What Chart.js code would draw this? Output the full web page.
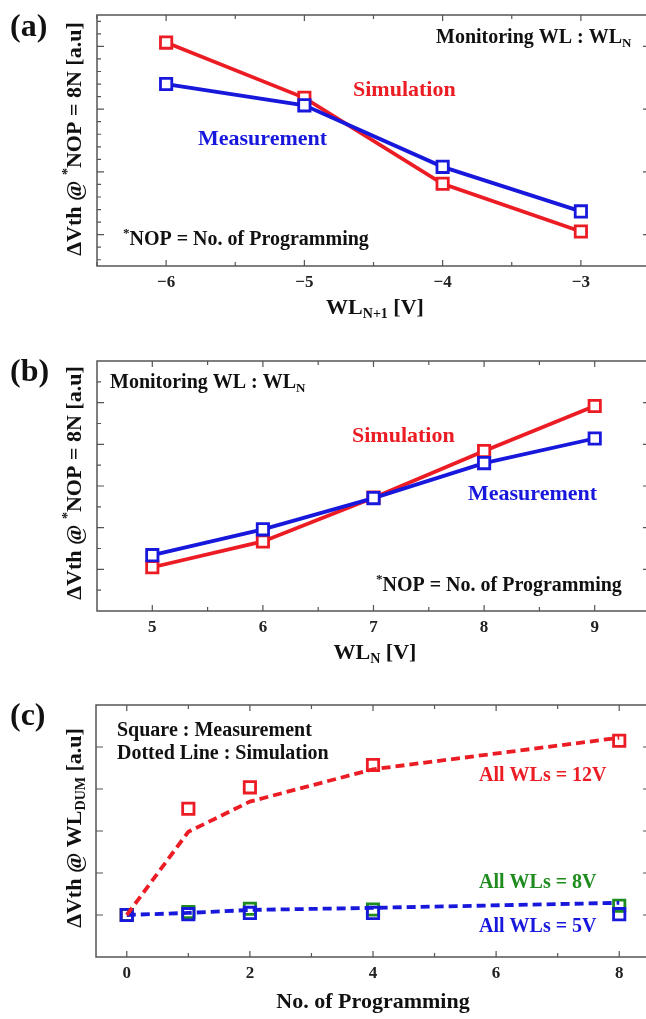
<!DOCTYPE html>
<html>
<head>
<meta charset="utf-8">
<script src="https://cdn.jsdelivr.net/npm/chart.js@4.4.1/dist/chart.umd.min.js"></script>
<style>
  html, body { margin: 0; padding: 0; background: #fff; overflow: hidden; }
  body { width: 646px; height: 1019px; position: relative; overflow: hidden; }
  .panel { position: absolute; left: 0; width: 652px; }
</style>
</head>
<body>
<!-- canvases are a little wider than the page: the right frame sits just past the edge -->
<div class="panel" style="top:0px"><canvas id="chartA" width="652" height="325"></canvas></div>
<div class="panel" style="top:325px"><canvas id="chartB" width="652" height="345"></canvas></div>
<div class="panel" style="top:670px"><canvas id="chartC" width="652" height="349"></canvas></div>
<script>
// (a) dVth vs WL(N+1) voltage
const wlNext = [-6, -5, -4, -3];
const simA = [4.06, 3.18, 1.81, 1.05];
const measA = [3.40, 3.06, 2.08, 1.37];

// (b) dVth vs WL(N) voltage
const wlN = [5, 6, 7, 8, 9];
const simB = [1.05, 1.67, 2.72, 3.84, 4.92];
const measB = [1.34, 1.96, 2.71, 3.55, 4.14];

// (c) dVth of dummy WL vs number of programming
const nop = [0, 1, 2, 4, 8];
const meas12 = [1.0, 3.53, 4.04, 4.57, 5.15];
const sim12 = [1.0, 2.98, 3.70, 4.47, 5.22];
const meas8 = [1.0, 1.07, 1.15, 1.13, 1.22];
const meas5 = [1.0, 1.02, 1.05, 1.05, 1.02];
const sim5 = [1.0, 1.05, 1.12, 1.17, 1.29];

// tick labels
const xTicksA = [-6, -5, -4, -3];
const xTicksB = [5, 6, 7, 8, 9];
const xTicksC = [0, 2, 4, 6, 8];

const RED = "#ec1c24";
const BLUE = "#1818dc";
const GREEN = "#1e8c1e";
const SERIF = "'Liberation Serif', 'Times New Roman', serif";

const pts = (xs, ys) => xs.map((x, i) => ({ x: x, y: ys[i] }));
const range = (a, b, s) => { const r = []; for (let v = a; v <= b + 1e-9; v += s) r.push(+v.toFixed(3)); return r; };

// text with sub/superscript parts: [["WL", ""], ["N", "sub"]]
function drawRich(ctx, parts, x, y, size, color, align, rotate) {
  ctx.save();
  ctx.fillStyle = color;
  ctx.textBaseline = "middle";
  ctx.textAlign = "left";
  const fontFor = (k) => "bold " + (k ? Math.round(size * 0.65) : size) + "px " + SERIF;
  let w = 0;
  parts.forEach(([t, k]) => { ctx.font = fontFor(k); w += ctx.measureText(t).width; });
  ctx.translate(x, y);
  if (rotate) ctx.rotate(-Math.PI / 2);
  let cx = align === "center" ? -w / 2 : 0;
  parts.forEach(([t, k]) => {
    ctx.font = fontFor(k);
    const dy = k === "sub" ? size * 0.3 : k === "sup" ? -size * 0.3 : 0;
    ctx.fillText(t, cx, dy);
    cx += ctx.measureText(t).width;
  });
  ctx.restore();
}

// frame with inward ticks on all four sides, plus the annotation texts
function decor(cfg) {
  return {
    id: "decor",
    beforeDatasetsDraw(chart) {
      const { ctx, chartArea: a, scales } = chart;
      ctx.save();
      ctx.strokeStyle = "#555";
      ctx.lineWidth = 1.5;
      ctx.strokeRect(a.left, a.top, a.right - a.left, a.bottom - a.top);
      ctx.lineWidth = 1.2;
      ctx.beginPath();
      const xt = (vals, len) => vals.forEach(v => {
        const px = scales.x.getPixelForValue(v);
        ctx.moveTo(px, a.bottom); ctx.lineTo(px, a.bottom - len);
        ctx.moveTo(px, a.top); ctx.lineTo(px, a.top + len);
      });
      const yt = (vals, len) => vals.forEach(v => {
        const py = scales.y.getPixelForValue(v);
        ctx.moveTo(a.left, py); ctx.lineTo(a.left + len, py);
        ctx.moveTo(a.right, py); ctx.lineTo(a.right - len, py);
      });
      xt(cfg.xMajor, 6); xt(cfg.xMinor, 4);
      yt(cfg.yMajor, 7); yt(cfg.yMinor, 4);
      ctx.stroke();
      ctx.restore();
    },
    afterDraw(chart) {
      const ctx = chart.ctx;
      cfg.texts.forEach(t => drawRich(ctx, t.parts, t.x, t.y, t.size, t.color || "#111", t.align || "left", t.rotate));
    }
  };
}

function makeChart(id, o) {
  const H = document.getElementById(id).height;
  return new Chart(document.getElementById(id), {
    type: "line",
    data: { datasets: o.datasets },
    options: {
      responsive: false,
      animation: false,
      devicePixelRatio: 1,
      layout: { autoPadding: false, padding: { left: o.left, right: 2, top: o.top, bottom: 0 } },
      plugins: { legend: { display: false }, tooltip: { enabled: false } },
      scales: {
        x: {
          type: "linear",
          min: o.xMin,
          max: o.xMax,
          grid: { display: false, drawTicks: false },
          border: { display: false },
          afterBuildTicks: s => { s.ticks = o.xTicks.map(v => ({ value: v })); },
          afterFit: s => { s.height = H - o.bottom; },
          ticks: {
            padding: 6,
            color: "#222",
            font: { family: SERIF, size: 17, weight: "bold" },
            callback: v => (v < 0 ? "\u2212" + Math.abs(v) : String(v))
          }
        },
        y: { display: false, min: o.yMin, max: o.yMax }
      }
    },
    plugins: [decor(o.decor)]
  });
}

const solid = (label, xs, ys, color, order) => ({
  label: label,
  data: pts(xs, ys),
  borderColor: color,
  borderWidth: 3.8,
  pointStyle: "rect",
  pointRadius: 8,
  pointBorderWidth: 2.8,
  pointBorderColor: color,
  pointBackgroundColor: "#fff",
  tension: 0,
  order: order
});

const squares = (label, xs, ys, color, order) => ({
  label: label,
  data: pts(xs, ys),
  showLine: false,
  pointStyle: "rect",
  pointRadius: 8,
  pointBorderWidth: 2.8,
  pointBorderColor: color,
  pointBackgroundColor: "rgba(255,255,255,0)",
  order: order
});

const dashed = (label, xs, ys, color, order) => ({
  label: label,
  data: pts(xs, ys),
  borderColor: color,
  borderWidth: 3.8,
  borderDash: [9, 5],
  pointRadius: 0,
  tension: 0,
  order: order
});

const yTitleA = [["\u0394Vth @ ", ""], ["*", "sup"], ["NOP = 8N [a.u]", ""]];
const nopNote = [["*", "sup"], ["NOP = No. of Programming", ""]];
const monitor = [["Monitoring WL : WL", ""], ["N", "sub"]];

makeChart("chartA", {
  left: 97, top: 15, bottom: 266,
  xMin: -6.5, xMax: -2.5, yMin: 0.5, yMax: 4.5,
  xTicks: xTicksA,
  datasets: [
    solid("Simulation", wlNext, simA, RED, 1),
    solid("Measurement", wlNext, measA, BLUE, 0)
  ],
  decor: {
    xMajor: xTicksA, xMinor: [-6.5, -5.5, -4.5, -3.5, -2.5],
    yMajor: [1, 2, 3, 4], yMinor: range(0.6, 4.4, 0.2).filter(v => Math.abs(v - Math.round(v)) > 0.01),
    texts: [
      { parts: [["(a)", ""]], x: 10, y: 28, size: 32 },
      { parts: yTitleA, x: 75, y: 139, size: 22, align: "center", rotate: true },
      { parts: [["WL", ""], ["N+1", "sub"], [" [V]", ""]], x: 375, y: 308, size: 22, align: "center" },
      { parts: monitor, x: 436, y: 38, size: 20 },
      { parts: [["Simulation", ""]], x: 353, y: 90, size: 22, color: RED },
      { parts: [["Measurement", ""]], x: 198, y: 139, size: 22, color: BLUE },
      { parts: nopNote, x: 123, y: 240, size: 20 }
    ]
  }
});

makeChart("chartB", {
  left: 97, top: 36, bottom: 286,
  xMin: 4.5, xMax: 9.5, yMin: 0, yMax: 6,
  xTicks: xTicksB,
  datasets: [
    solid("Simulation", wlN, simB, RED, 1),
    solid("Measurement", wlN, measB, BLUE, 0)
  ],
  decor: {
    xMajor: xTicksB, xMinor: [5.5, 6.5, 7.5, 8.5],
    yMajor: [1, 2, 3, 4, 5], yMinor: [0.5, 1.5, 2.5, 3.5, 4.5, 5.5],
    texts: [
      { parts: [["(b)", ""]], x: 10, y: 48, size: 32 },
      { parts: yTitleA, x: 75, y: 158, size: 22, align: "center", rotate: true },
      { parts: [["WL", ""], ["N", "sub"], [" [V]", ""]], x: 375, y: 328, size: 22, align: "center" },
      { parts: monitor, x: 110, y: 58, size: 20 },
      { parts: [["Simulation", ""]], x: 352, y: 111, size: 22, color: RED },
      { parts: [["Measurement", ""]], x: 468, y: 169, size: 22, color: BLUE },
      { parts: nopNote, x: 376, y: 261, size: 20 }
    ]
  }
});

makeChart("chartC", {
  left: 96, top: 35, bottom: 287,
  xMin: -0.5, xMax: 8.5, yMin: 0, yMax: 6,
  xTicks: xTicksC,
  datasets: [
    squares("Measurement 12V", nop, meas12, RED, 5),
    squares("Measurement 8V", nop, meas8, GREEN, 4),
    squares("Measurement 5V", nop, meas5, BLUE, 3),
    dashed("Simulation 5V", nop, sim5, BLUE, 2),
    dashed("Simulation 12V", nop, sim12, RED, 1)
  ],
  decor: {
    xMajor: xTicksC, xMinor: [1, 3, 5, 7],
    yMajor: [1, 2, 3, 4, 5], yMinor: [],
    texts: [
      { parts: [["(c)", ""]], x: 10, y: 47, size: 32 },
      { parts: [["\u0394Vth @ WL", ""], ["DUM", "sub"], [" [a.u]", ""]], x: 75, y: 158, size: 22, align: "center", rotate: true },
      { parts: [["No. of Programming", ""]], x: 373, y: 332, size: 22, align: "center" },
      { parts: [["Square : Measurement", ""]], x: 117, y: 61, size: 20 },
      { parts: [["Dotted Line : Simulation", ""]], x: 117, y: 84, size: 20 },
      { parts: [["All WLs = 12V", ""]], x: 479, y: 106, size: 20, color: RED },
      { parts: [["All WLs = 8V", ""]], x: 479, y: 213, size: 20, color: GREEN },
      { parts: [["All WLs = 5V", ""]], x: 479, y: 257, size: 20, color: BLUE }
    ]
  }
});
</script>
</body>
</html>
